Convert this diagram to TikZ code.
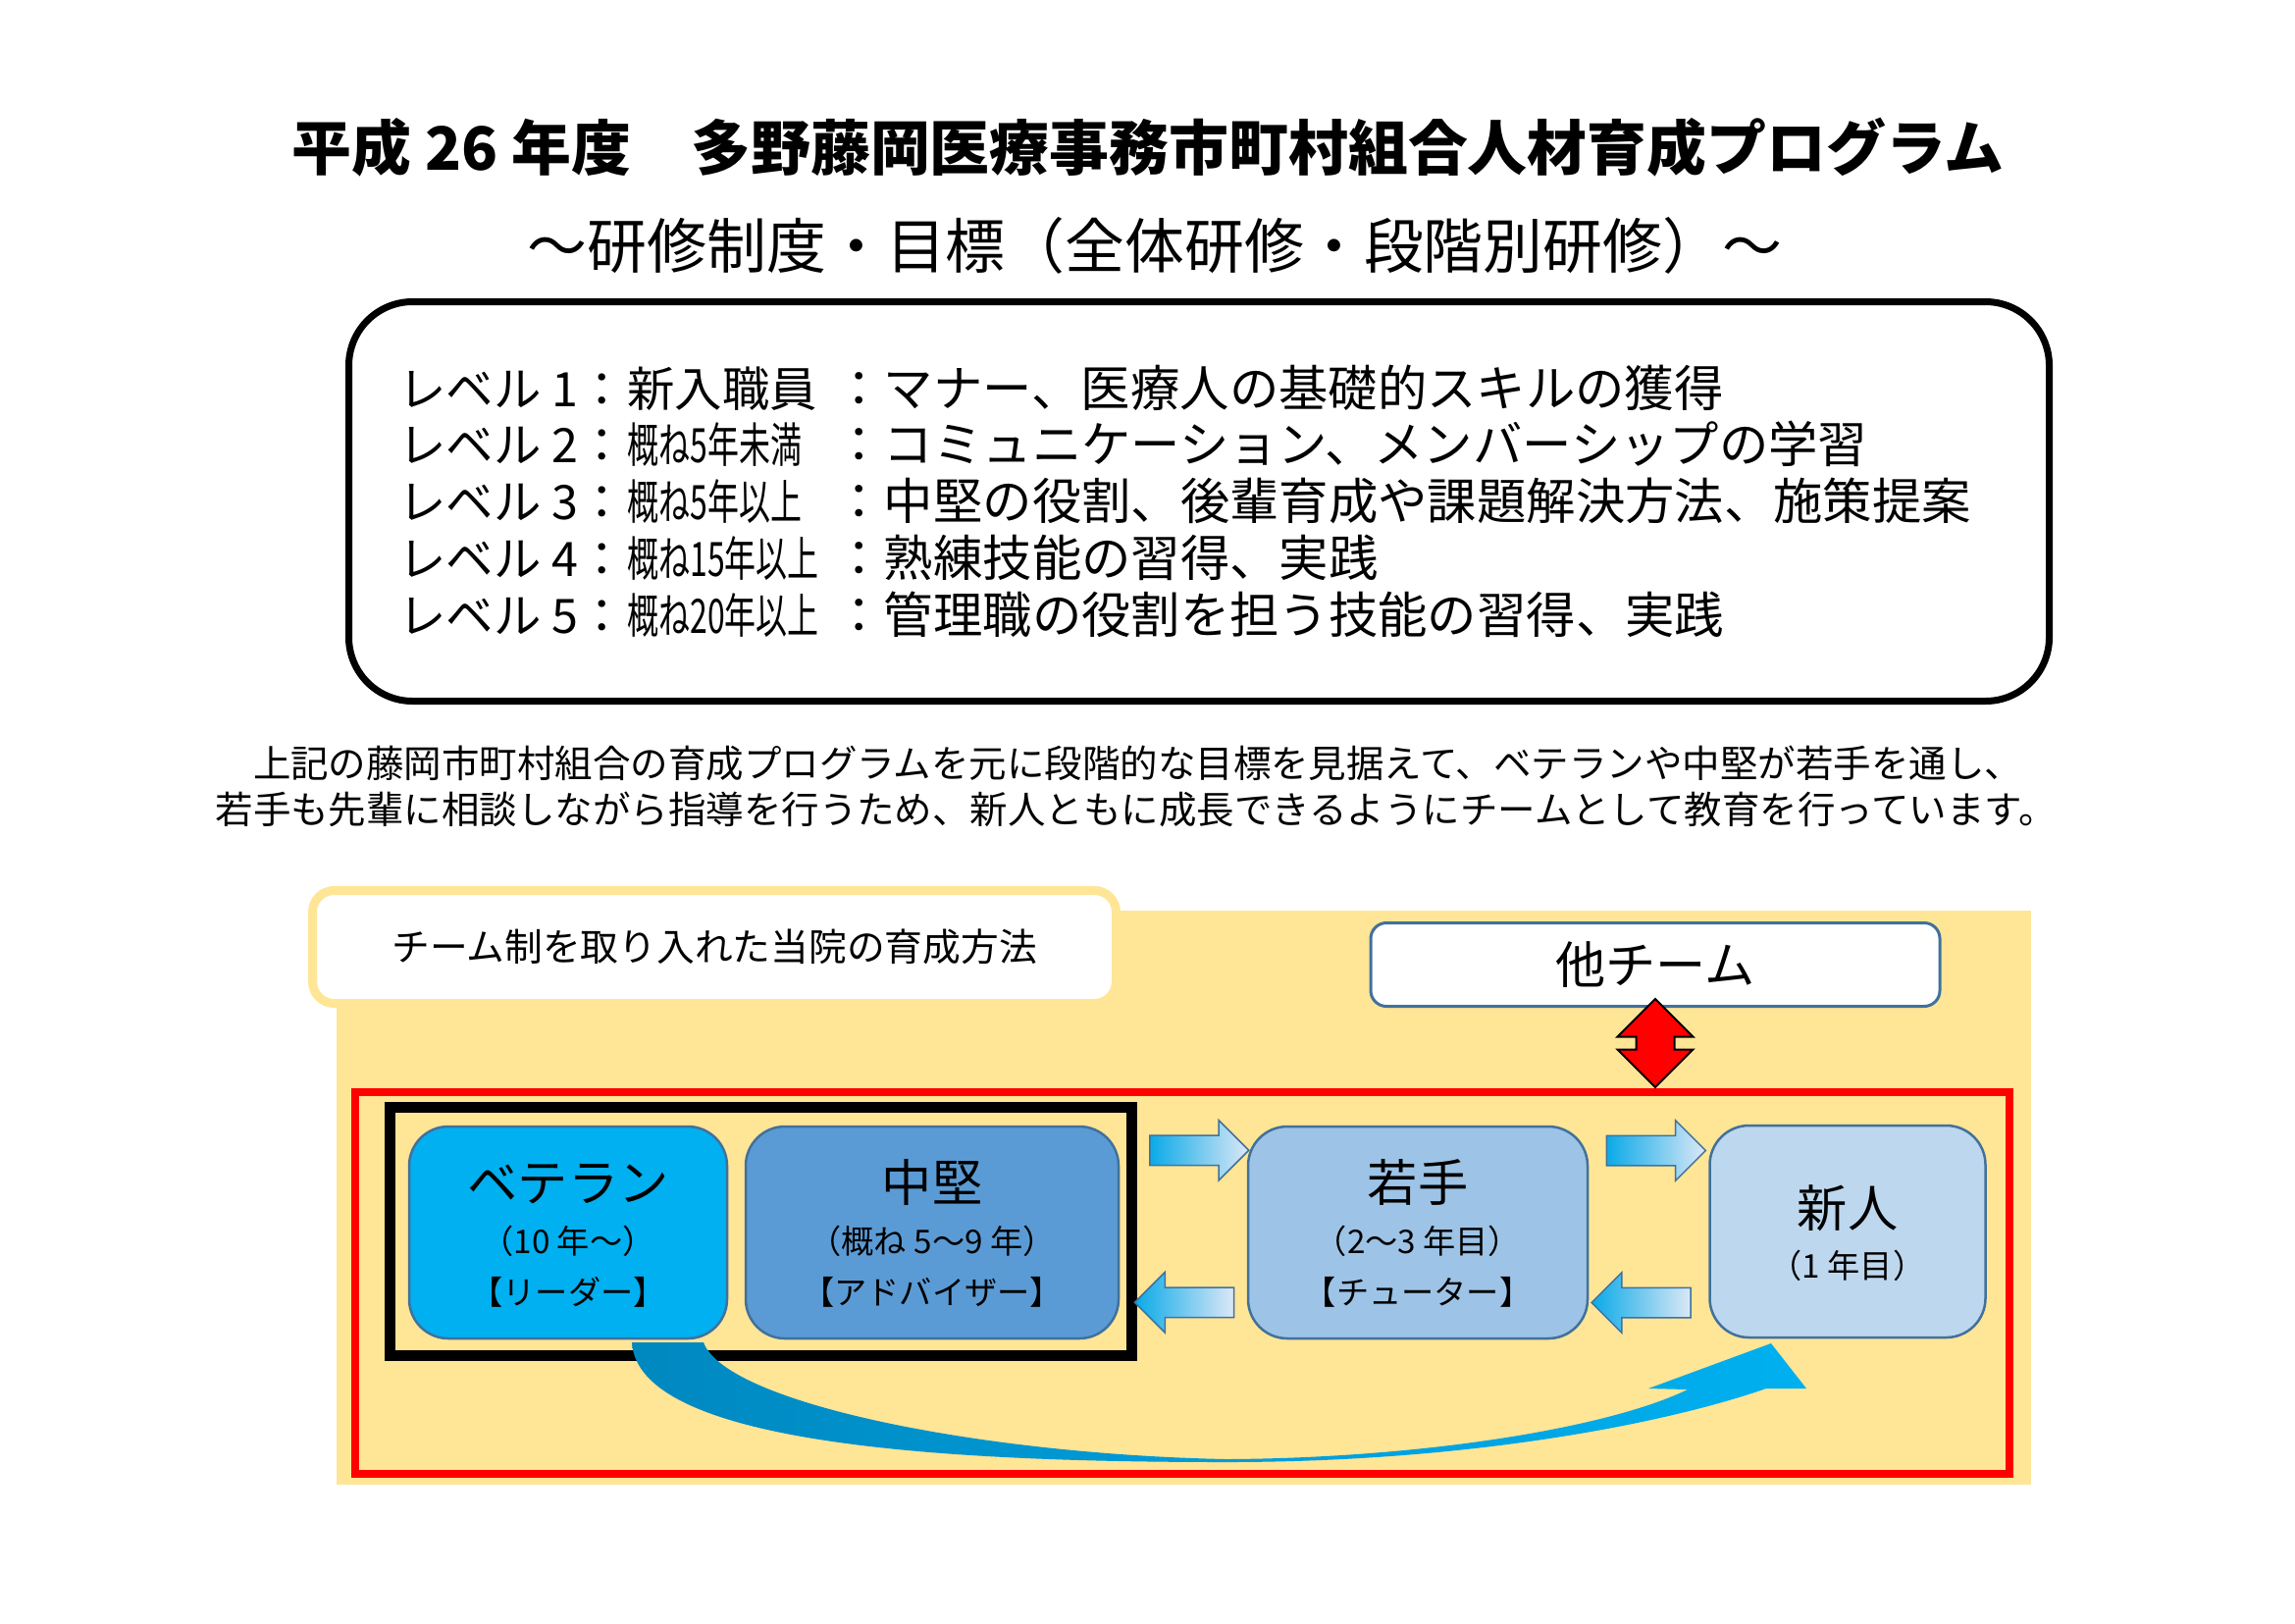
\documentclass[tikz,border=0pt]{standalone}
\usepackage{fontspec}
\setmainfont{Noto Sans CJK JP}
\newfontfamily\narrowfont[FakeStretch=0.66]{Noto Sans CJK JP}
\usetikzlibrary{calc,shapes.arrows}

\newlength{\pxu}
\setlength{\pxu}{0.127mm}

\definecolor{bgyellow}{RGB}{255,229,150}
\definecolor{vetblue}{RGB}{0,176,240}
\definecolor{midblue}{RGB}{91,155,213}
\definecolor{youngblue}{RGB}{157,195,230}
\definecolor{newblue}{RGB}{189,215,238}
\definecolor{edgeblue}{RGB}{65,113,156}
\definecolor{arrowlight}{RGB}{220,232,246}
\definecolor{arrowcyan}{RGB}{10,170,232}
\definecolor{curvedark}{RGB}{0,136,192}

\begin{document}
\begin{tikzpicture}[x=\pxu,y=-\pxu]

      \useasboundingbox (0,0) rectangle (2339,1654);

      \node[font=\fontsize{22}{26}\selectfont\bfseries] (title) at (1170,150) {平成 26 年度　多野藤岡医療事務市町村組合人材育成プログラム};
      \node[font=\fontsize{22}{26}\selectfont] (subtitle) at (1177,250) {～研修制度・目標（全体研修・段階別研修）～};

      \node[draw, line width=7\pxu, rounded corners=65\pxu, minimum width=1733\pxu, minimum height=407\pxu] (levels) at (1222,511) {};

      \begin{scope}[every node/.style={anchor=base west, inner sep=0, font=\fontsize{17.5}{20}\selectfont}]
        \node (l1)  at (406,414) {レベル 1：};
        \node (l1b) at (639,414) {新入職員};
        \node (l2)  at (406,471) {レベル 2：};
        \node (l2b) at (639,471) {\narrowfont 概ね5年未満};
        \node (l3)  at (406,529) {レベル 3：};
        \node (l3b) at (639,529) {\narrowfont 概ね5年以上};
        \node (l4)  at (406,587) {レベル 4：};
        \node (l4b) at (639,587) {\narrowfont 概ね15年以上};
        \node (l5)  at (406,645) {レベル 5：};
        \node (l5b) at (639,645) {\narrowfont 概ね20年以上};
      \end{scope}

      \begin{scope}[every node/.style={anchor=base west, inner sep=0, font=\fontsize{18.2}{21}\selectfont}]
        \node (l1c) at (850,414) {：マナー、医療人の基礎的スキルの獲得};
        \node (l2c) at (850,471) {：コミュニケーション、メンバーシップの学習};
        \node (l3c) at (850,529) {：中堅の役割、後輩育成や課題解決方法、施策提案};
        \node (l4c) at (850,587) {：熟練技能の習得、実践};
        \node (l5c) at (850,645) {：管理職の役割を担う技能の習得、実践};
      \end{scope}

      \node[anchor=west, align=left, inner sep=0, font=\fontsize{13.9}{16.9}\selectfont] (note) at (219,801) {　上記の藤岡市町村組合の育成プログラムを元に段階的な目標を見据えて、ベテランや中堅が若手を通し、\\若手も先輩に相談しながら指導を行うため、新人ともに成長できるようにチームとして教育を行っています。};

      \fill[bgyellow] (343,928) rectangle (2070,1513);

      \node[draw=bgyellow, line width=9\pxu, fill=white, rounded corners=22\pxu, minimum width=819\pxu, minimum height=115\pxu, font=\fontsize{14}{17}\selectfont] (method) at (728,965) {チーム制を取り入れた当院の育成方法};
      \node[draw=edgeblue, line width=3\pxu, fill=white, rounded corners=16\pxu, minimum width=580\pxu, minimum height=85\pxu, font=\fontsize{18.5}{22}\selectfont] (other) at (1687,983) {他チーム};

      \node[draw=red, line width=8\pxu, minimum width=1686\pxu, minimum height=389\pxu] (team) at (1205,1307.5) {};
      \node[draw=black, line width=11\pxu, minimum width=756\pxu, minimum height=253\pxu] (core) at (775,1254.5) {};

      \node[double arrow, shape border rotate=90, draw=black, line width=2\pxu, fill=red, minimum height=90\pxu, double arrow head extend=19\pxu, inner sep=18.5\pxu] (link) at ($(other.south)!.5!(other.south |- team.north)+(0,-5)$) {};

      \begin{scope}[every node/.style={draw=edgeblue, line width=2.5\pxu, rounded corners=40\pxu, minimum height=216\pxu, inner sep=0}]
        \node[fill=vetblue,   minimum width=324\pxu] (vet)   at (579,1256)  {};
        \node[fill=midblue,   minimum width=380\pxu] (mid)   at (950,1256)  {};
        \node[fill=youngblue, minimum width=346\pxu] (young) at (1445,1256) {};
        \node[fill=newblue,   minimum width=281\pxu] (new)   at (1883,1255) {};
      \end{scope}

      \begin{scope}[every node/.style={single arrow, draw=edgeblue, line width=1.5\pxu, left color=arrowcyan, right color=arrowlight, minimum height=101\pxu, single arrow head extend=15.5\pxu, inner sep=14.5\pxu}]
        \node (fw1) at ($(core.east)!.5!(young.west)+(0,-83)$) {};
        \node[shape border rotate=180] (bw1) at ($(core.east)!.5!(young.west)+(0,72)$) {};
        \node (fw2) at ($(young.east)!.5!(new.west)+(0,-83)$) {};
        \node[shape border rotate=180] (bw2) at ($(young.east)!.5!(new.west)+(0,72)$) {};
      \end{scope}

      \begin{scope}[every node/.style={anchor=base, inner sep=0, font=\fontsize{18.5}{22}\selectfont}]
        \node (vetname)   at (579,1224)  {ベテラン};
        \node (midname)   at (950,1224)  {中堅};
        \node (youngname) at (1445,1224) {若手};
        \node (newname)   at (1883,1250) {新人};
      \end{scope}

      \begin{scope}[every node/.style={anchor=base, inner sep=0, font=\fontsize{12}{14}\selectfont}]
        \node (vetyears)   at (579,1277)  {（10 年～）};
        \node (vetrole)    at (579,1329)  {【リーダー】};
        \node (midyears)   at (950,1277)  {（概ね 5～9 年）};
        \node (midrole)    at (950,1329)  {【アドバイザー】};
        \node (youngyears) at (1445,1277) {（2～3 年目）};
        \node (youngrole)  at (1445,1329) {【チューター】};
        \node (newyears)   at (1883,1302) {（1 年目）};
      \end{scope}

      \shade[left color=curvedark, right color=vetblue] (644,1368) .. controls (650,1470) and (950,1490) .. (1250,1490) .. controls (1500,1490) and (1700,1450) .. (1800,1415) -- (1841,1415) -- (1805,1369) -- (1680,1415) -- (1720,1416) .. controls (1640,1455) and (1450,1486) .. (1250,1487) .. controls (1000,1482) and (740,1430) .. (717,1368) -- cycle;

    \end{tikzpicture}
\end{document}
